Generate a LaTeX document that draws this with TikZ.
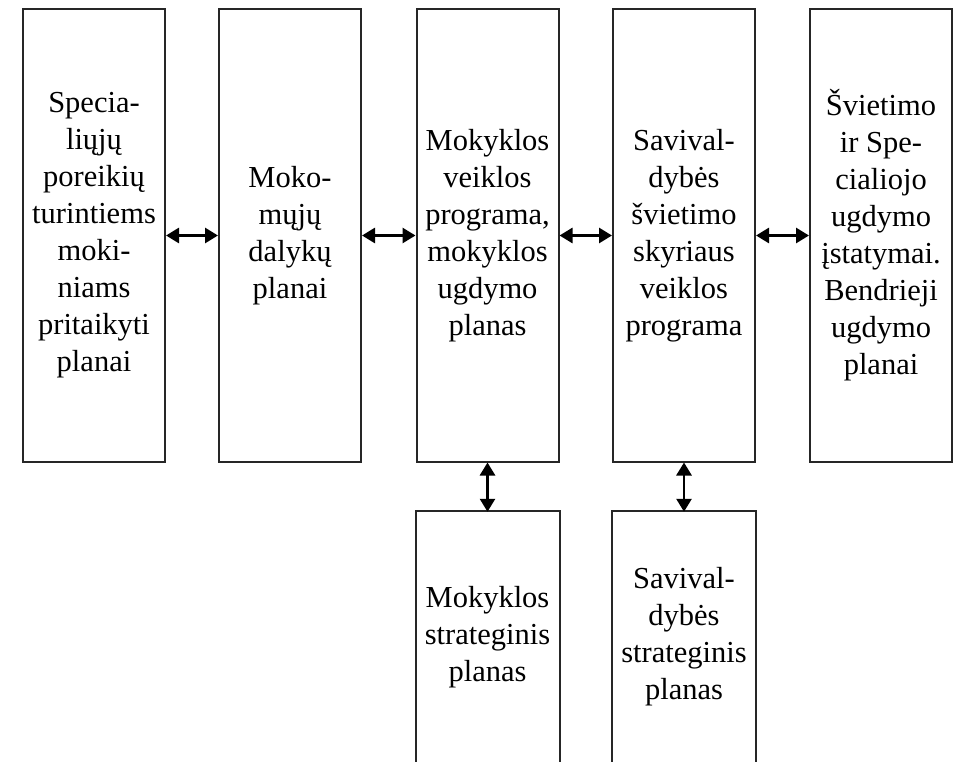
\documentclass[tikz,border=0pt]{standalone}
\usepackage{fontspec}
\setmainfont{Liberation Serif}
\usetikzlibrary{arrows.meta}
\begin{document}
\begin{tikzpicture}[x=1pt,y=-1pt,
  box/.style={draw=black!85, line width=2pt, minimum width=142pt, minimum height=452pt,
    inner sep=0pt, align=center, font=\fontsize{30.5}{37}\selectfont},
  lowbox/.style={box, draw=none, minimum height=250.5pt},
  side/.style={draw=black!85, line width=2pt},
  link/.style={line width=2.8pt, {Triangle[length=13pt,width=15pt]}-{Triangle[length=13pt,width=15pt]}}]
\useasboundingbox (0,0) rectangle (955,762);
\node[box] (b1) at (94,235.5) {Specia-\\liųjų\\poreikių\\turintiems\\moki-\\niams\\pritaikyti\\planai};
\node[box] (b2) at (290,235.5) {Moko-\\mųjų\\dalykų\\planai};
\node[box] (b3) at (487.5,235.5) {Mokyklos\\veiklos\\programa,\\mokyklos\\ugdymo\\planas};
\node[box] (b4) at (684,235.5) {Savival-\\dybės\\švietimo\\skyriaus\\veiklos\\programa};
\node[box] (b5) at (881,235.5) {Švietimo\\ir Spe-\\cialiojo\\ugdymo\\įstatymai.\\Bendrieji\\ugdymo\\planai};
\node[lowbox] (b6) at (487.5,637) {Mokyklos\\strateginis\\planas};
\node[lowbox] (b7) at (684,637) {Savival-\\dybės\\strateginis\\planas};
\draw[side] ([yshift=-2pt]b6.south west) -- (b6.north west) -- (b6.north east) -- ([yshift=-2pt]b6.south east);
\draw[side] ([yshift=-2pt]b7.south west) -- (b7.north west) -- (b7.north east) -- ([yshift=-2pt]b7.south east);
\draw[link] (b1.east) -- (b2.west);
\draw[link] (b2.east) -- (b3.west);
\draw[link] (b3.east) -- (b4.west);
\draw[link] (b4.east) -- (b5.west);
\draw[link] (b3.south) -- ([yshift=-1pt]b6.north);
\draw[link] (b4.south) -- ([yshift=-1pt]b7.north);
\end{tikzpicture}
\end{document}
